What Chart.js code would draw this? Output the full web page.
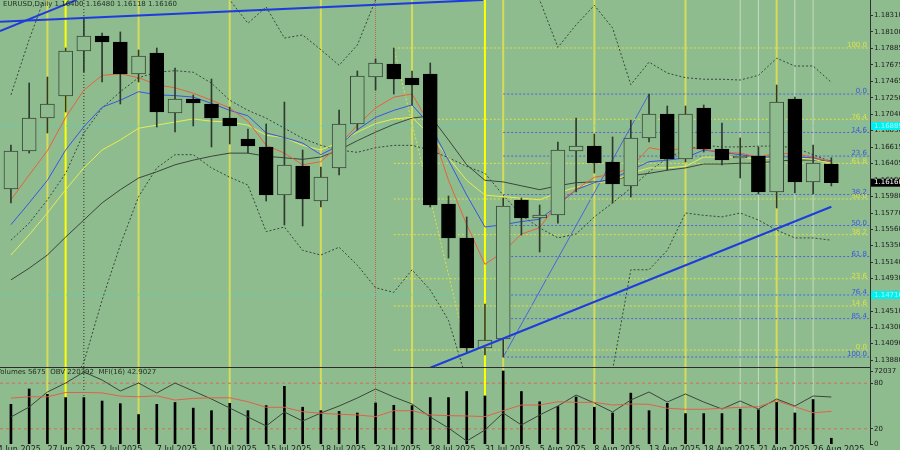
<!DOCTYPE html>
<html>
<head>
<meta charset="utf-8">
<script src="https://cdn.jsdelivr.net/npm/chart.js@4.4.1/dist/chart.umd.min.js"></script>
<style>
html, body { margin: 0; padding: 0; background: #8fbc8f; overflow: hidden; }
#price { position: absolute; left: 0; top: 0; }
#ind { position: absolute; left: 0; top: 368px; }
</style>
</head>
<body>
<canvas id="price" width="900" height="368"></canvas>
<canvas id="ind" width="900" height="82"></canvas>
<script>
// EURUSD daily, 25 Jun - 27 Aug 2025
const days = ['25 Jun','26 Jun','27 Jun','30 Jun','1 Jul','2 Jul','3 Jul','4 Jul','7 Jul','8 Jul',
  '9 Jul','10 Jul','11 Jul','14 Jul','15 Jul','16 Jul','17 Jul','18 Jul','21 Jul','22 Jul',
  '23 Jul','24 Jul','25 Jul','28 Jul','29 Jul','30 Jul','31 Jul','1 Aug','4 Aug','5 Aug',
  '6 Aug','7 Aug','8 Aug','11 Aug','12 Aug','13 Aug','14 Aug','15 Aug','18 Aug','19 Aug',
  '20 Aug','21 Aug','22 Aug','25 Aug','26 Aug','27 Aug'];

const open = [1.16079,1.16567,1.16992,1.17275,1.17853,1.18046,1.17969,1.17557,1.17828,1.17056,
  1.17236,1.17172,1.16992,1.16722,1.16619,1.16002,1.16374,1.15924,1.16349,1.16915,
  1.17519,1.17686,1.17506,1.17557,1.15886,1.15449,1.14034,1.14150,1.15937,1.15706,
  1.15744,1.16567,1.16632,1.16426,1.16117,1.16735,1.17043,1.16464,1.17120,1.16593,
  1.16477,1.16503,1.16040,1.17236,1.16169,1.16400];
const high = [1.16645,1.17442,1.17519,1.17892,1.18290,1.18085,1.18098,1.17866,1.17892,1.17635,
  1.17287,1.17493,1.17133,1.16850,1.16915,1.17197,1.16580,1.16362,1.17095,1.17596,
  1.17750,1.17892,1.17596,1.17699,1.15989,1.15719,1.14600,1.15963,1.15963,1.15873,
  1.16683,1.16992,1.16786,1.16748,1.16966,1.17300,1.17146,1.17146,1.17159,1.16927,
  1.16735,1.16619,1.17416,1.17262,1.16645,1.16480];
const low = [1.15899,1.16542,1.16799,1.17069,1.17583,1.17455,1.17172,1.17455,1.16876,1.16812,
  1.16889,1.16619,1.16658,1.16542,1.15924,1.15616,1.15603,1.15847,1.16259,1.16837,
  1.17352,1.17300,1.17159,1.15847,1.15191,1.13983,1.13944,1.13918,1.15487,1.15269,
  1.15641,1.16040,1.16284,1.15899,1.15976,1.16683,1.16323,1.16426,1.16554,1.16387,
  1.16220,1.16014,1.15834,1.16027,1.16014,1.16118];
const close = [1.16567,1.16992,1.17172,1.17853,1.18046,1.17969,1.17557,1.17789,1.17069,1.17236,
  1.17185,1.16992,1.16889,1.16632,1.16002,1.16387,1.15950,1.16233,1.16915,1.17532,
  1.17699,1.17493,1.17416,1.15873,1.15449,1.14034,1.14137,1.15860,1.15706,1.15744,
  1.16580,1.16632,1.16413,1.16143,1.16735,1.17043,1.16464,1.17043,1.16593,1.16452,
  1.16503,1.16040,1.17197,1.16169,1.16413,1.16160];

// moving averages and bands
const maRed = [1.1594,1.1626,1.1657,1.1700,1.1735,1.1754,1.1756,1.1751,1.1742,1.1738,
  1.1731,1.1722,1.1712,1.1695,1.1664,1.1654,1.1639,1.1643,1.1664,1.1690,
  1.1712,1.1726,1.1730,1.1690,1.1619,1.1562,1.1511,1.1527,1.1550,1.1558,
  1.1590,1.1607,1.1623,1.1627,1.1635,1.1661,1.1657,1.1661,1.1659,1.1655,
  1.1654,1.1649,1.1654,1.1653,1.1649,1.1643];
const maBlue = [1.1562,1.1590,1.1619,1.1658,1.1688,1.1713,1.1722,1.1733,1.1729,1.1728,
  1.1726,1.1718,1.1709,1.1702,1.1680,1.1674,1.1667,1.1652,1.1664,1.1684,
  1.1700,1.1709,1.1716,1.1690,1.1645,1.1600,1.1559,1.1562,1.1566,1.1569,
  1.1587,1.1607,1.1616,1.1621,1.1632,1.1643,1.1645,1.1648,1.1658,1.1655,
  1.1652,1.1649,1.1649,1.1649,1.1648,1.1643];
const maYellow = [1.1523,1.1549,1.1577,1.1607,1.1635,1.1658,1.1671,1.1686,1.1690,1.1694,
  1.1698,1.1695,1.1694,1.1690,1.1677,1.1674,1.1664,1.1658,1.1668,1.1681,
  1.1692,1.1698,1.1700,1.1677,1.1648,1.1619,1.1600,1.1598,1.1596,1.1594,
  1.1603,1.1610,1.1616,1.1618,1.1628,1.1635,1.1635,1.1637,1.1649,1.1649,
  1.1649,1.1646,1.1649,1.1648,1.1646,1.1641];
const maGray = [1.1491,1.1506,1.1523,1.1546,1.1568,1.1590,1.1607,1.1622,1.1630,1.1639,
  1.1645,1.1650,1.1654,1.1654,1.1650,1.1648,1.1646,1.1649,1.1658,1.1670,
  1.1681,1.1691,1.1699,1.1702,1.1671,1.1639,1.1619,1.1617,1.1612,1.1607,
  1.1612,1.1616,1.1617,1.1619,1.1625,1.1628,1.1632,1.1635,1.1640,1.1640,
  1.1641,1.1641,1.1644,1.1645,1.1645,1.1644];
const bandUp = [1.1729,1.1800,1.1864,1.1915,1.1954,1.1967,1.1973,1.1967,1.1954,1.1928,
  1.1902,1.1877,1.1851,1.1821,1.1842,1.1802,1.1806,1.1787,1.1767,1.1793,
  1.1851,1.1889,1.1909,1.1896,1.1902,1.1902,1.1896,1.1883,1.1866,1.1851,
  1.1790,1.1819,1.1844,1.1815,1.1742,1.1771,1.1757,1.1751,1.1749,1.1749,
  1.1748,1.1754,1.1776,1.1766,1.1766,1.1745];
const bandMid = [1.1542,1.1564,1.1594,1.1628,1.1680,1.1712,1.1733,1.1751,1.1758,1.1760,
  1.1758,1.1744,1.1722,1.1709,1.1699,1.1686,1.1673,1.1664,1.1658,1.1655,
  1.1661,1.1664,1.1664,1.1658,1.1648,1.1637,1.1628,1.1600,1.1574,1.1558,
  1.1545,1.1550,1.1572,1.1590,1.1609,1.1630,1.1648,1.1658,1.1664,1.1662,
  1.1662,1.1663,1.1663,1.1661,1.1652,1.1643];
const bandLow = [1.1182,1.1247,1.1298,1.1343,1.1385,1.1465,1.1536,1.1598,1.1635,1.1652,
  1.1652,1.1635,1.1623,1.1613,1.1553,1.1559,1.1529,1.1523,1.1533,1.1510,
  1.1481,1.1475,1.1504,1.1478,1.1439,1.1362,1.1311,1.1285,1.1272,1.1285,
  1.1298,1.1311,1.1337,1.1375,1.1504,1.1504,1.1529,1.1577,1.1574,1.1572,
  1.1577,1.1568,1.1555,1.1545,1.1545,1.1542];

// lower window
const volume = [39150,54300,49000,45800,45800,42400,39800,29100,39150,41000,
  35400,32900,40100,32900,37900,56900,36300,32900,32200,30600,
  40500,38200,37900,45800,45800,51800,47400,72037,51800,41700,
  37000,46400,36300,30600,50200,32900,40100,30000,30000,30000,
  34400,33800,41000,30600,43900,5675];
const obv = [136392,178392,241392,279192,325392,291792,245592,279192,237192,279192,
  245592,211992,174192,136392,98592,157392,119592,153192,182592,216192,
  253992,220392,190992,136392,90192,35592,81792,153192,102792,144792,
  182592,228792,195192,157392,207792,241392,199392,232992,199392,169992,
  203592,169992,211992,182592,224592,220392];
const mfi = [60.4,62.1,62.1,67.8,67.8,67.3,63.0,62.1,63.4,57.8,
  60.0,60.8,60.8,55.6,48.3,48.3,42.5,40.4,39.1,38.2,
  36.0,43.8,43.8,38.2,37.3,36.9,36.0,43.8,51.3,51.3,
  55.6,54.8,54.8,51.3,52.6,52.2,47.0,45.7,45.7,47.0,
  48.3,49.0,56.9,49.0,41.2,42.9027];
const mfiLevels = [20, 80];
const mfiTicks = [0, 20, 80];

// axis labels
const priceTicks = [1.18310,1.18100,1.17885,1.17675,1.17465,1.17250,1.17040,1.16830,1.16615,1.16405,
  1.16190,1.15980,1.15770,1.15560,1.15350,1.15140,1.14930,1.14720,1.14510,1.14300,1.14090,1.13880];
const tickIdx = [-1,2,5,8,11,14,17,20,23,26,29,32,35,38,41,44];
const tickLabels = ['24 Jun 2025','27 Jun 2025','2 Jul 2025','7 Jul 2025','10 Jul 2025','15 Jul 2025',
  '18 Jul 2025','23 Jul 2025','28 Jul 2025','31 Jul 2025','5 Aug 2025','8 Aug 2025',
  '13 Aug 2025','18 Aug 2025','21 Aug 2025','26 Aug 2025'];

// fibonacci levels
const blueFibNames = ['0.0','14.6','23.6','38.2','50.0','61.8','76.4','85.4','100.0'];
const blueFibLevels = [1.17300,1.16806,1.16502,1.16008,1.15609,1.15210,1.14716,1.14412,1.13918];
const yellowFibNames = ['100.0','76.4','61.8','50.0','38.2','23.6','14.6','0.0'];
const yellowFibLevels = [1.17892,1.16975,1.16408,1.15950,1.15492,1.14925,1.14575,1.14008];
const cyanLevels = [1.16889, 1.14716];

// trend lines: [bar index, price] pairs
const trendA = [[-0.6, 1.1811], [3.6, 1.1851]];
const trendB = [[-0.6, 1.1823], [25.9, 1.1851]];
const trendC = [[23, 1.1378], [45, 1.1585]];
const blueFibDiag = [[27, 1.13918], [35, 1.17300]];
const yellowFibDiag = [[21, 1.17892], [25, 1.14008]];

// vertical markers (bar index)
const paleV = [2, 7, 12, 17, 22, 27, 32, 37, 42];
const brightV = [3, 26];
const whiteV = [40, 41, 43, 44];
const blackDotV = [4];
const redDotV = [20];

const XMIN = -0.6, XMAX = 47.12;
const YMIN = 1.13790, YMAX = 1.18509;
const VOLMAX = 75000;
const BG = '#8fbc8f';
const FONT = 'DejaVu Sans';

function series(arr) { return arr.map((v, i) => ({x: i, y: v})); }
function seg(p) { return p.map(a => ({x: a[0], y: a[1]})); }
function lineDs(data, color, width, dash, order, axis) {
  const ds = {type: 'line', data, borderColor: color, borderWidth: width, borderDash: dash || [],
    pointRadius: 0, fill: false, tension: 0, order};
  if (axis) ds.yAxisID = axis;
  return ds;
}
function verticals(lo, hi, axis) {
  const out = [];
  paleV.forEach(i => out.push(lineDs([{x: i, y: lo}, {x: i, y: hi}], '#d4dc5a', 2, [], 20, axis)));
  brightV.forEach(i => out.push(lineDs([{x: i, y: lo}, {x: i, y: hi}], '#ffff00', 2, [], 20, axis)));
  whiteV.forEach(i => out.push(lineDs([{x: i, y: lo}, {x: i, y: hi}], '#c4dcc0', 1, [], 20, axis)));
  blackDotV.forEach(i => out.push(lineDs([{x: i, y: lo}, {x: i, y: hi}], '#303030', 1, [1, 2], 20, axis)));
  redDotV.forEach(i => out.push(lineDs([{x: i, y: lo}, {x: i, y: hi}], '#c8604a', 1, [1, 1], 20, axis)));
  return out;
}

const bull = close.map((c, i) => c >= open[i]);

const priceSets = [
  ...verticals(YMIN, YMAX),
  ...cyanLevels.map(v => lineDs([{x: XMIN, y: v}, {x: XMAX, y: v}], '#40d8d8', 1, [1, 2], 16)),
  ...yellowFibLevels.map(v => lineDs([{x: 21, y: v}, {x: XMAX, y: v}], '#dce04a', 1, [2, 2], 15)),
  ...blueFibLevels.map(v => lineDs([{x: 27, y: v}, {x: XMAX, y: v}], '#4a64dc', 1, [2, 2], 15)),
  lineDs(seg(yellowFibDiag), '#dce04a', 1, [2, 2], 15),
  lineDs(seg(blueFibDiag), '#4a64dc', 1, [], 15),
  lineDs(series(bandUp), '#36463a', 1, [2, 2], 12),
  lineDs(series(bandMid), '#36463a', 1, [2, 2], 12),
  lineDs(series(bandLow), '#36463a', 1, [2, 2], 12),
  lineDs(series(maGray), '#3a453a', 1, [], 11),
  lineDs(series(maYellow), '#e8ec50', 1, [], 10),
  lineDs(series(maBlue), '#3656e0', 1, [], 9),
  lineDs(series(maRed), '#e8603c', 1, [], 8),
  {type: 'bar', data: days.map((d, i) => ({x: i, y: [low[i], high[i]]})),
    backgroundColor: '#2e3a2e', barThickness: 1, grouped: false, order: 4},
  {type: 'bar', data: days.map((d, i) => ({x: i, y: [open[i], close[i]]})),
    backgroundColor: bull.map(b => b ? BG : '#000000'),
    borderColor: bull.map(b => b ? '#3a473a' : '#000000'),
    borderWidth: 1, borderSkipped: false, barThickness: 14, grouped: false, order: 3},
  lineDs(seg(trendA), '#1e3cdc', 2, [], 1),
  lineDs(seg(trendB), '#1e3cdc', 2, [], 1),
  lineDs(seg(trendC), '#1e3cdc', 2, [], 1)
];

const priceOverlay = {
  id: 'priceOverlay',
  afterDraw(chart) {
    const ctx = chart.ctx, ys = chart.scales.y, area = chart.chartArea;
    ctx.save();
    ctx.font = '7px "' + FONT + '"';
    ctx.textBaseline = 'bottom';
    ctx.textAlign = 'right';
    ctx.fillStyle = '#dce04a';
    yellowFibLevels.forEach((v, i) => ctx.fillText(yellowFibNames[i], area.right - 3, ys.getPixelForValue(v) + 1));
    ctx.fillStyle = '#3a58dc';
    blueFibLevels.forEach((v, i) => ctx.fillText(blueFibNames[i], area.right - 3, ys.getPixelForValue(v) + 1));
    // axis marker boxes
    ctx.textAlign = 'left';
    ctx.textBaseline = 'middle';
    cyanLevels.forEach(v => {
      const y = ys.getPixelForValue(v);
      ctx.fillStyle = '#00f0f0';
      ctx.fillRect(area.right + 1, y - 4, 30, 8);
      ctx.fillStyle = '#a8f8f8';
      ctx.fillText(v.toFixed(5), area.right + 4, y);
    });
    const last = close[close.length - 1];
    const yl = ys.getPixelForValue(last);
    ctx.fillStyle = '#000000';
    ctx.fillRect(area.right + 1, yl - 4, 30, 8);
    ctx.fillStyle = '#ffffff';
    ctx.fillText(last.toFixed(5), area.right + 4, yl);
    // header
    const n = close.length - 1;
    ctx.fillStyle = '#1e2a1e';
    ctx.textBaseline = 'top';
    ctx.fillText('EURUSD,Daily ' + open[n].toFixed(5) + ' ' + high[n].toFixed(5) + ' ' +
      low[n].toFixed(5) + ' ' + close[n].toFixed(5), 3, 1);
    ctx.restore();
  }
};

new Chart(document.getElementById('price'), {
  type: 'bar',
  data: {datasets: priceSets},
  options: {
    responsive: false, animation: false, events: [],
    layout: {padding: 0},
    plugins: {legend: {display: false}, tooltip: {enabled: false}},
    scales: {
      x: {type: 'linear', min: XMIN, max: XMAX, offset: false,
        ticks: {display: false}, grid: {display: false, drawTicks: false},
        border: {display: true, color: '#2c2c2c'},
        afterFit: s => { s.height = 1; s.paddingLeft = 0; s.paddingRight = 0; }},
      y: {position: 'right', min: YMIN, max: YMAX,
        grid: {drawOnChartArea: false, color: '#303030', tickLength: 3},
        border: {color: '#303030'},
        ticks: {font: {family: FONT, size: 7}, color: '#202020', padding: 1,
          callback: v => Number(v).toFixed(5)},
        afterBuildTicks: s => { s.ticks = priceTicks.map(v => ({value: v})); },
        afterFit: s => { s.width = 30; s.paddingTop = 0; s.paddingBottom = 0; }}
    }
  },
  plugins: [priceOverlay]
});

const indOverlay = {
  id: 'indOverlay',
  afterDraw(chart) {
    const ctx = chart.ctx, n = volume.length - 1;
    ctx.save();
    ctx.font = '7px "' + FONT + '"';
    ctx.fillStyle = '#1e2a1e';
    ctx.textBaseline = 'top';
    ctx.fillText('Volumes ' + volume[n] + '  OBV ' + obv[n] + '  MFI(16) ' + mfi[n].toFixed(4), -4, 1);
    ctx.restore();
  }
};

// the volume maximum is labelled on the shared right axis
const volPeak = Math.max(...volume);
const volPeakPos = volPeak / VOLMAX * 100;

new Chart(document.getElementById('ind'), {
  type: 'bar',
  data: {datasets: [
    ...verticals(0, 100, 'yMfi'),
    ...mfiLevels.map(v => lineDs([{x: XMIN, y: v}, {x: XMAX, y: v}], '#d46a58', 1, [3, 3], 15, 'yMfi')),
    {type: 'bar', data: series(volume), yAxisID: 'yVol', backgroundColor: '#000000',
      barThickness: 2, grouped: false, order: 5},
    lineDs(series(obv), '#3a453a', 1, [], 2, 'yObv'),
    lineDs(series(mfi), '#e0604a', 1, [], 1, 'yMfi')
  ]},
  options: {
    responsive: false, animation: false, events: [],
    layout: {padding: 0},
    plugins: {legend: {display: false}, tooltip: {enabled: false}},
    scales: {
      x: {type: 'linear', min: XMIN, max: XMAX, offset: false,
        grid: {display: false, drawTicks: false}, border: {display: false},
        ticks: {align: 'start', autoSkip: false, maxRotation: 0, padding: 1,
          font: {family: FONT, size: 8}, color: '#202020',
          callback: v => { const k = tickIdx.indexOf(v); return k < 0 ? '' : tickLabels[k]; }},
        afterBuildTicks: s => { s.ticks = tickIdx.map(v => ({value: v})); },
        afterFit: s => { s.height = 6; s.paddingLeft = 0; s.paddingRight = 0; }},
      yVol: {display: false, min: 0, max: VOLMAX},
      yMfi: {position: 'right', min: 0, max: 100,
        grid: {drawOnChartArea: false, color: '#303030', tickLength: 3},
        border: {color: '#303030'},
        ticks: {font: {family: FONT, size: 7}, color: '#202020', padding: 1,
          callback: v => v === volPeakPos ? String(volPeak) : String(v)},
        afterBuildTicks: s => { s.ticks = mfiTicks.map(v => ({value: v})).concat([{value: volPeakPos}]); },
        afterFit: s => { s.width = 30; s.paddingTop = 0; s.paddingBottom = 0; }},
      yObv: {display: false, min: 22992, max: 342192}
    }
  },
  plugins: [indOverlay]
});
</script>
</body>
</html>
